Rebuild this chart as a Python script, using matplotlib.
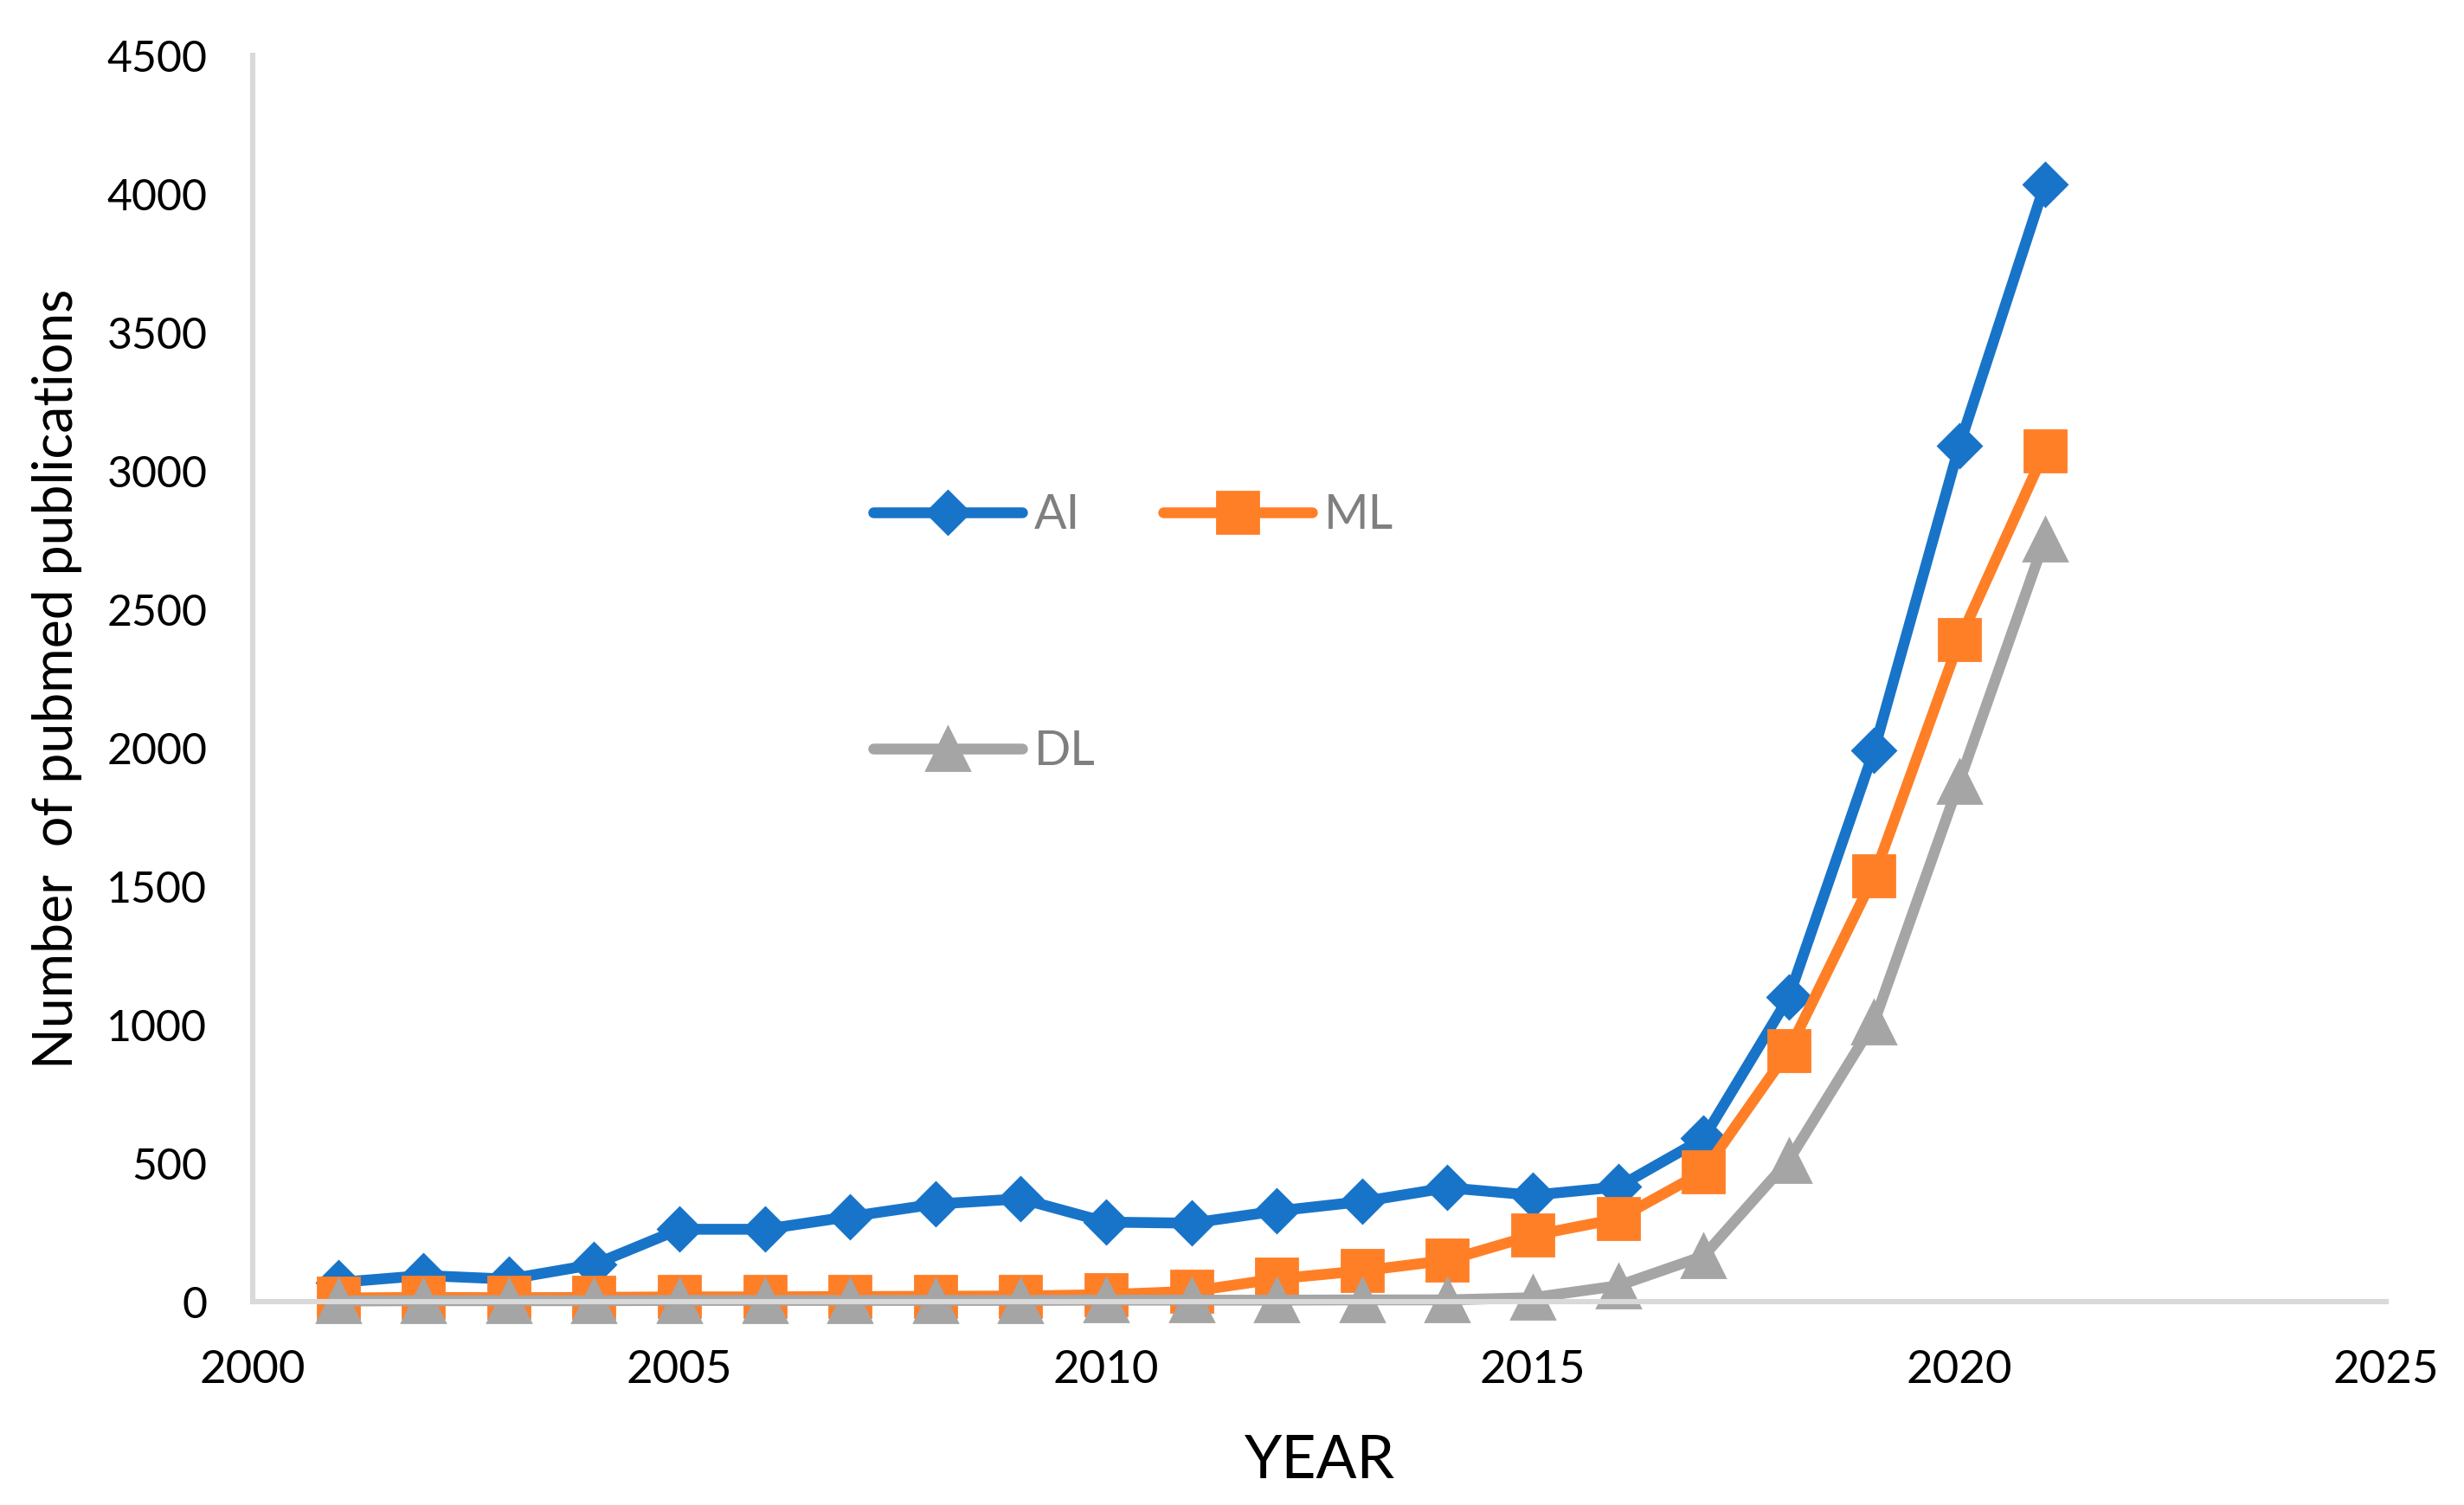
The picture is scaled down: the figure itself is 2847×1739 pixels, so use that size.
import matplotlib
matplotlib.use("Agg")
import matplotlib.pyplot as plt
import numpy as np

# Pubmed publication counts per year
years = [2001, 2002, 2003, 2004, 2005, 2006, 2007, 2008, 2009, 2010, 2011,
         2012, 2013, 2014, 2015, 2016, 2017, 2018, 2019, 2020, 2021]
ai = [70, 95, 82, 135, 262, 262, 308, 353, 372, 288, 284,
      328, 362, 412, 385, 415, 590, 1100, 1992, 3093, 4035]
ml = [14, 16, 15, 16, 18, 18, 19, 20, 21, 26, 38,
      83, 112, 150, 240, 300, 470, 908, 1538, 2390, 3072]
dl = [3, 4, 4, 4, 5, 5, 5, 5, 5, 6, 6,
      6, 7, 7, 15, 58, 165, 511, 1010, 1879, 2753]

x_ticks = [2000, 2005, 2010, 2015, 2020, 2025]
y_ticks = [0, 500, 1000, 1500, 2000, 2500, 3000, 3500, 4000, 4500]

plt.rcParams['font.family'] = ['Lato', 'DejaVu Sans']

fig = plt.figure(figsize=(14.235, 8.695), dpi=200)
ax = fig.add_axes([0.1026, 0.135, 0.8658, 0.828])

line_kw = dict(linewidth=4.5, solid_joinstyle='round', solid_capstyle='round',
               clip_on=False)
l_ai, = ax.plot(years, ai, color='#1874C8', marker='D', markersize=12.5,
                label='AI', **line_kw)
l_ml, = ax.plot(years, ml, color='#FF7F27', marker='s', markersize=17,
                label='ML', **line_kw)
l_dl, = ax.plot(years, dl, color='#A5A5A5', marker='^', markersize=18,
                label='DL', **line_kw)

ax.set_xlim(2000, 2025)
ax.set_ylim(0, 4500)
ax.set_xticks(x_ticks)
ax.set_yticks(y_ticks)
ax.tick_params(axis='both', length=0, labelcolor='black')
ax.tick_params(axis='x', pad=20, labelsize=19)
ax.tick_params(axis='y', pad=19, labelsize=18)

for side in ['top', 'right']:
    ax.spines[side].set_visible(False)
for side in ['left', 'bottom']:
    ax.spines[side].set_color('#D9D9D9')
    ax.spines[side].set_linewidth(2.2)

ax.set_ylabel("Number  of pubmed publications", fontsize=22.5)
ax.yaxis.set_label_coords(-0.08, 0.5)
ax.set_xlabel("YEAR", fontsize=25)
ax.xaxis.set_label_coords(0.5, -0.106)

# Legend: AI and ML on the first row, DL below
leg = ax.legend(handles=[l_ai, l_dl, l_ml], ncol=2, frameon=False,
                loc='center left', bbox_to_anchor=(0.3544, 0.579),
                bbox_transform=fig.transFigure, borderpad=0, borderaxespad=0,
                fontsize=20, handlelength=3.1, handletextpad=0.25,
                columnspacing=1.4, labelspacing=4.0, labelcolor='#7F7F7F')

fig.savefig("out.png", dpi=200)
